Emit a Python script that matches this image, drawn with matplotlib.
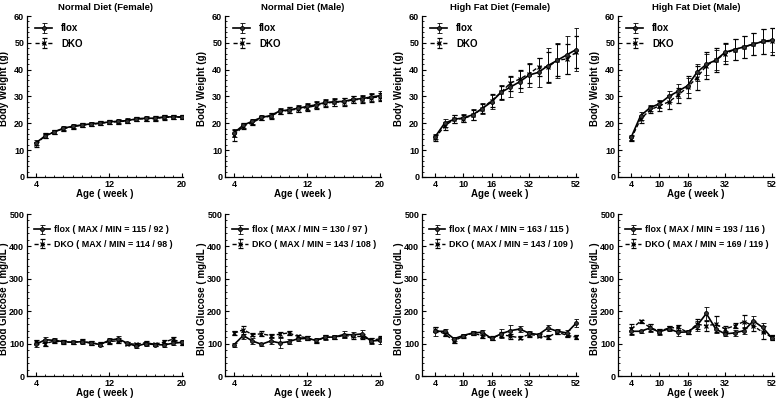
import numpy as np
import matplotlib
matplotlib.use("Agg")
import matplotlib.pyplot as plt
from matplotlib.ticker import FixedLocator, MultipleLocator

plt.rcParams['font.family'] = ['Liberation Sans', 'DejaVu Sans']
plt.rcParams['font.weight'] = 'bold'

weeks_nd = list(range(4, 21))
weeks_hf = [4, 6, 8, 10, 12, 14, 16, 20, 24, 28, 32, 36, 40, 44, 48, 52]
ticks_nd = [4, 12, 20]
ticks_hf = [4, 10, 16, 32, 52]

titles = ["Normal Diet (Female)", "Normal Diet (Male)", "High Fat Diet (Female)", "High Fat Diet (Male)"]

# Body weight (g)
bw_ndf_flox = [12.8, 15.3, 16.8, 18.2, 18.9, 19.4, 19.8, 20.1, 20.5, 20.8, 21.0, 21.7, 21.9, 21.9, 22.4, 22.4, 22.4]
bw_ndf_dko = [12.2, 15.5, 16.9, 18.0, 18.7, 19.3, 19.6, 20.0, 20.4, 20.6, 20.9, 21.6, 21.7, 21.8, 22.2, 22.3, 22.3]
bw_ndf_flox_err = [0.9, 0.8, 0.8, 0.7, 0.8, 0.8, 0.7, 0.7, 0.7, 0.8, 0.9, 0.8, 0.9, 0.8, 0.8, 0.8, 0.8]
bw_ndf_dko_err = [1.0, 0.9, 0.8, 0.7, 0.8, 0.8, 0.7, 0.7, 0.7, 0.8, 0.9, 0.8, 0.8, 0.8, 0.8, 0.8, 0.8]

bw_ndm_flox = [16.5, 19.3, 20.8, 22.2, 22.9, 24.6, 25.0, 25.6, 26.3, 26.9, 27.8, 28.0, 28.2, 28.9, 29.2, 29.8, 30.3]
bw_ndm_dko = [15.5, 19.0, 20.3, 22.0, 22.7, 24.3, 24.9, 25.3, 25.9, 26.6, 27.5, 27.9, 28.0, 28.7, 29.0, 29.5, 29.9]
bw_ndm_flox_err = [1.5, 0.9, 1.0, 0.9, 1.0, 1.2, 1.2, 1.2, 1.3, 1.3, 1.3, 1.4, 1.4, 1.4, 1.4, 1.5, 1.7]
bw_ndm_dko_err = [2.0, 1.0, 1.0, 0.9, 1.0, 1.0, 1.1, 1.2, 1.3, 1.3, 1.3, 1.3, 1.4, 1.3, 1.3, 1.4, 1.4]

bw_hff_flox = [15.0, 20.0, 21.5, 22.0, 23.2, 25.5, 28.0, 31.5, 33.5, 35.5, 38.0, 39.0, 41.5, 43.5, 45.5, 47.5]
bw_hff_dko = [14.5, 19.0, 21.5, 21.8, 23.0, 25.5, 28.5, 31.5, 35.0, 36.5, 38.5, 41.0, 41.0, 43.5, 44.0, 46.5]
bw_hff_flox_err = [1.0, 1.5, 1.5, 1.5, 2.0, 2.0, 2.5, 2.8, 3.8, 4.0, 4.5, 5.5, 6.5, 6.5, 7.0, 8.0]
bw_hff_dko_err = [1.0, 1.5, 1.5, 1.3, 1.8, 1.8, 2.5, 2.5, 2.8, 3.3, 3.5, 3.5, 5.5, 6.0, 5.5, 6.0]

bw_hfm_flox = [14.8, 22.8, 25.8, 27.3, 30.0, 32.0, 34.0, 39.0, 42.0, 43.5, 46.5, 47.5, 48.5, 49.5, 50.5, 51.0]
bw_hfm_dko = [14.3, 21.5, 25.0, 26.5, 28.0, 30.5, 33.5, 37.0, 41.5, 43.5, 46.0, 47.5, 48.5, 49.5, 50.5, 50.5]
bw_hfm_flox_err = [1.0, 1.5, 1.2, 1.5, 2.2, 2.5, 2.8, 3.2, 4.0, 3.8, 3.2, 3.8, 4.0, 4.2, 4.5, 4.5]
bw_hfm_dko_err = [1.0, 1.3, 1.3, 2.0, 2.5, 2.8, 4.0, 4.5, 5.0, 4.5, 4.0, 4.0, 4.0, 4.2, 4.5, 5.0]

# Blood glucose (mg/dL)
bg_ndf_flox = [98, 112, 110, 106, 104, 106, 103, 97, 110, 115, 101, 92, 100, 97, 96, 101, 104]
bg_ndf_dko = [105, 100, 108, 105, 104, 107, 101, 99, 106, 109, 100, 98, 103, 98, 104, 114, 101]
bg_ndf_flox_err = [8, 7, 6, 5, 5, 6, 6, 5, 7, 7, 5, 6, 6, 5, 6, 6, 7]
bg_ndf_dko_err = [7, 6, 6, 5, 5, 6, 6, 5, 7, 7, 5, 5, 6, 5, 6, 7, 6]

bg_ndm_flox = [97, 125, 108, 98, 108, 102, 106, 115, 116, 110, 120, 120, 128, 127, 130, 108, 110]
bg_ndm_dko = [132, 143, 128, 130, 125, 129, 133, 122, 118, 108, 120, 119, 125, 122, 122, 110, 115]
bg_ndm_flox_err = [6, 10, 8, 5, 10, 15, 7, 6, 6, 6, 8, 6, 10, 8, 12, 10, 10]
bg_ndm_dko_err = [6, 12, 6, 8, 6, 8, 6, 6, 6, 6, 6, 6, 6, 8, 8, 8, 8]

bg_hff_flox = [138, 138, 115, 125, 133, 135, 116, 130, 140, 145, 132, 128, 148, 138, 133, 163]
bg_hff_dko = [143, 130, 109, 122, 132, 125, 117, 128, 123, 118, 128, 125, 120, 135, 126, 120]
bg_hff_flox_err = [14, 6, 6, 6, 5, 8, 5, 14, 18, 8, 8, 5, 8, 8, 8, 12]
bg_hff_dko_err = [8, 6, 8, 6, 5, 8, 5, 8, 8, 5, 8, 6, 6, 6, 6, 6]

bg_hfm_flox = [138, 138, 148, 136, 146, 135, 136, 155, 193, 145, 130, 133, 140, 170, 150, 116]
bg_hfm_dko = [145, 169, 150, 138, 148, 150, 135, 160, 155, 160, 145, 155, 168, 155, 135, 119]
bg_hfm_flox_err = [12, 5, 12, 8, 8, 12, 5, 15, 20, 12, 8, 10, 10, 15, 15, 6]
bg_hfm_dko_err = [15, 5, 10, 8, 6, 8, 5, 15, 15, 25, 8, 8, 20, 15, 20, 8]

bg_max_min = [((115, 92), (114, 98)), ((130, 97), (143, 108)), ((163, 115), (143, 109)), ((193, 116), (169, 119))]

bw = [(bw_ndf_flox, bw_ndf_flox_err, bw_ndf_dko, bw_ndf_dko_err),
      (bw_ndm_flox, bw_ndm_flox_err, bw_ndm_dko, bw_ndm_dko_err),
      (bw_hff_flox, bw_hff_flox_err, bw_hff_dko, bw_hff_dko_err),
      (bw_hfm_flox, bw_hfm_flox_err, bw_hfm_dko, bw_hfm_dko_err)]
bg = [(bg_ndf_flox, bg_ndf_flox_err, bg_ndf_dko, bg_ndf_dko_err),
      (bg_ndm_flox, bg_ndm_flox_err, bg_ndm_dko, bg_ndm_dko_err),
      (bg_hff_flox, bg_hff_flox_err, bg_hff_dko, bg_hff_dko_err),
      (bg_hfm_flox, bg_hfm_flox_err, bg_hfm_dko, bg_hfm_dko_err)]

W, H = 776, 399
fig = plt.figure(figsize=(W / 100, H / 100), dpi=100)

lefts = [27, 225, 422, 618]
aw = 156
rows = [(16, 177), (214, 376)]

hf_idx = np.arange(len(weeks_hf), dtype=float)
def fwd_ext(x):
    x = np.asarray(x, dtype=float)
    y = np.interp(x, weeks_hf, hf_idx)
    y = np.where(x < 4, (x - 4) / 2.0, y)
    y = np.where(x > 52, 15 + (x - 52) / 4.0, y)
    return y
def inv_ext(y):
    y = np.asarray(y, dtype=float)
    x = np.interp(y, hf_idx, weeks_hf)
    x = np.where(y < 0, 4 + y * 2.0, x)
    x = np.where(y > 15, 52 + (y - 15) * 4.0, x)
    return x

fs = 6.5
for r, (top, bot) in enumerate(rows):
    for c in range(4):
        ax = fig.add_axes([lefts[c] / W, 1 - bot / H, aw / W, (bot - top) / H])
        hf = c >= 2
        x = weeks_hf if hf else weeks_nd
        if hf:
            ax.set_xscale('function', functions=(fwd_ext, inv_ext))
        fl, fle, dk, dke = (bw if r == 0 else bg)[c]
        if r == 0:
            lab_f, lab_d = "flox", "DKO"
        else:
            (fmx, fmn), (dmx, dmn) = bg_max_min[c]
            lab_f = f"flox ( MAX / MIN = {fmx} / {fmn} )"
            lab_d = f"DKO ( MAX / MIN = {dmx} / {dmn} )"
        ax.errorbar(x, fl, yerr=fle, color='black', lw=1.2, marker='o', ms=2.8,
                    mfc='#333333', mec='black', mew=0.6, capsize=1.8, elinewidth=0.6,
                    capthick=0.8, ls='-', label=lab_f, zorder=3)
        ax.errorbar(x, dk, yerr=dke, color='black', lw=1.0, marker='x', ms=3.5,
                    mew=0.9, capsize=1.8, elinewidth=0.6, capthick=0.8,
                    ls=(0, (3, 1.6)), label=lab_d, zorder=2)
        if hf:
            ax.set_xlim(inv_ext(-1.4), inv_ext(15.2))
            ax.xaxis.set_major_locator(FixedLocator(ticks_hf))
            ax.xaxis.set_minor_locator(FixedLocator(weeks_hf))
        else:
            ax.set_xlim(3.0, 20.1)
            ax.xaxis.set_major_locator(FixedLocator(ticks_nd))
            ax.xaxis.set_minor_locator(MultipleLocator(1))
        ax.set_xticklabels([str(t) for t in (ticks_hf if hf else ticks_nd)])
        if r == 0:
            ax.set_ylim(0, 60)
            ax.yaxis.set_major_locator(MultipleLocator(10))
            ax.yaxis.set_minor_locator(MultipleLocator(2))
            ax.set_ylabel("Body Weight (g)", fontsize=fs + 0.5, fontweight='bold')
            ax.yaxis.set_label_coords(-0.118, 0.55)
            ax.set_title(titles[c], fontsize=fs + 0.3, fontweight='bold', pad=4)
        else:
            ax.set_ylim(0, 500)
            ax.yaxis.set_major_locator(MultipleLocator(100))
            ax.yaxis.set_minor_locator(MultipleLocator(20))
            ax.set_ylabel("Blood Glucose ( mg/dL )", fontsize=fs + 0.5, fontweight='bold')
            ax.yaxis.set_label_coords(-0.118, 0.48)
        ax.set_xlabel("Age ( week )", fontsize=fs + 0.5, fontweight='bold', labelpad=0.5)
        for s in ['top', 'right']:
            ax.spines[s].set_visible(False)
        for s in ['left', 'bottom']:
            ax.spines[s].set_linewidth(0.9)
        ax.tick_params(which='major', direction='in', length=3, width=0.8, labelsize=fs, pad=2)
        ax.tick_params(which='minor', direction='in', length=1.5, width=0.6)
        for t in ax.get_xticklabels() + ax.get_yticklabels():
            t.set_fontweight('bold')
        if r == 0:
            leg = ax.legend(loc='upper left', bbox_to_anchor=(0.05, 0.955), frameon=False,
                            fontsize=fs + 0.5, handlelength=1.8, handletextpad=0.9,
                            labelspacing=0.55, borderaxespad=0, borderpad=0)
        else:
            leg = ax.legend(loc='upper left', bbox_to_anchor=(0.045, 0.93), frameon=False,
                            fontsize=6.4, handlelength=1.8, handletextpad=0.4,
                            labelspacing=0.6, borderaxespad=0, borderpad=0)
        for t in leg.get_texts():
            t.set_fontweight('bold')

fig.savefig("out.png", dpi=100)
